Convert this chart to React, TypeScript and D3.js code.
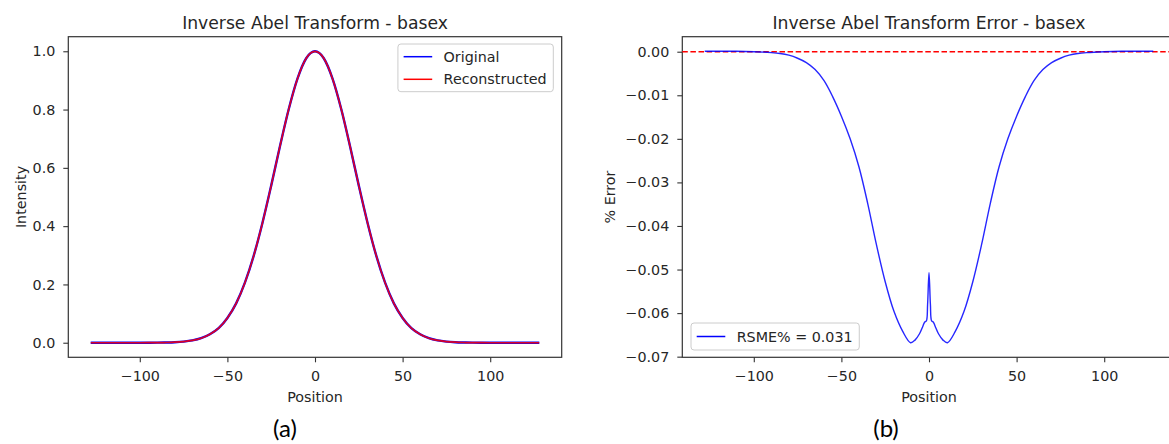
import React, { useEffect, useRef } from "react";
import * as d3 from "d3";

// sample positions (pixels from centre) and the values
const positions = [
  -128, -120, -110, -100, -95, -90, -85, -80, -75, -70, -65, -60, -55, -50, -45, -40, -35, -30, -25, -20, -15,
  -10, -5, 0, 5, 10, 15, 20, 25, 30, 35, 40, 45, 50, 55, 60, 65, 70, 75, 80, 85, 90, 95, 100, 110, 120, 128,
];
const original = [
  0, 0, 0, 0, 0.0001, 0.0003, 0.0008, 0.0018, 0.0039, 0.0079, 0.0154, 0.029, 0.05, 0.085, 0.135, 0.206, 0.298,
  0.411, 0.539, 0.674, 0.801, 0.906, 0.976, 1.0, 0.976, 0.906, 0.801, 0.674, 0.539, 0.411, 0.298, 0.206, 0.135,
  0.085, 0.05, 0.029, 0.0154, 0.0079, 0.0039, 0.0018, 0.0008, 0.0003, 0.0001, 0, 0, 0, 0,
];
const reconstructed = [
  0, 0, 0, 0, 0.0001, 0.0003, 0.0008, 0.0018, 0.0039, 0.0079, 0.0154, 0.029, 0.05, 0.085, 0.135, 0.206, 0.298,
  0.411, 0.539, 0.674, 0.801, 0.906, 0.976, 0.9995, 0.976, 0.906, 0.801, 0.674, 0.539, 0.411, 0.298, 0.206, 0.135,
  0.085, 0.05, 0.029, 0.0154, 0.0079, 0.0039, 0.0018, 0.0008, 0.0003, 0.0001, 0, 0, 0, 0,
];

const errPositions = [
  -128, -120, -110, -100, -90, -85, -80, -75, -70, -65, -60, -55, -50, -45, -40, -35, -30, -25, -20, -15, -10.5,
  -8, -5.5, -3.5, -2.5, -1.5, -0.8, 0, 0.8, 1.5, 2.5, 3.5, 5.5, 8, 10.5, 15, 20, 25, 30, 35, 40, 45, 50, 55, 60,
  65, 70, 75, 80, 85, 90, 100, 110, 120, 128,
];
const errorPct = [
  0.0001, 0.0001, 0.0001, 0, -0.0002, -0.0004, -0.0008, -0.0015, -0.0025, -0.0041, -0.0066, -0.0103, -0.0148,
  -0.02, -0.0264, -0.0348, -0.0443, -0.0528, -0.0596, -0.0642, -0.0668, -0.0662, -0.0648, -0.063, -0.0621,
  -0.0618, -0.058, -0.0507, -0.058, -0.0618, -0.0621, -0.063, -0.0648, -0.0662, -0.0668, -0.0642, -0.0596,
  -0.0528, -0.0443, -0.0348, -0.0264, -0.02, -0.0148, -0.0103, -0.0066, -0.0041, -0.0025, -0.0015, -0.0008,
  -0.0004, -0.0002, 0, 0.0001, 0.0001, 0.0001,
];

const positionTicks = [-100, -50, 0, 50, 100];
const intensityTicks = [0, 0.2, 0.4, 0.6, 0.8, 1.0];
const errorTicks = [0, -0.01, -0.02, -0.03, -0.04, -0.05, -0.06, -0.07];
const titles = ["Inverse Abel Transform - basex", "Inverse Abel Transform Error - basex"];
const yLabels = ["Intensity", "% Error"];
const legendA = ["Original", "Reconstructed"];
const legendB = "RSME% = 0.031";
const captions = ["(a)", "(b)"];

const FONT = "DejaVu Sans";
const FS = 14.3;
const INK = "#262626";

// matplotlib style autoscale: 5% margin on each side
const padded = (vals: number[]): [number, number] => {
  const [lo, hi] = d3.extent(vals) as [number, number];
  const m = (hi - lo) * 0.05;
  return [lo - m, hi + m];
};

const App: React.FC = () => {
  const svgRef = useRef<SVGSVGElement>(null);

  useEffect(() => {
    if (!svgRef.current) return;
    const svg = d3.select(svgRef.current);
    svg.selectAll("*").remove();

    const top = 36.7;
    const bottom = 357.3;
    const panelW = 493.4;
    const lefts = [68.3, 682.3];

    const drawPanel = (
      i: number,
      yDomain: [number, number],
      yTicks: number[],
      yFmt: (d: number) => string,
      yLabelX: number
    ) => {
      const x0 = lefts[i];
      const x = d3.scaleLinear().domain(padded(positions)).range([x0, x0 + panelW]);
      const y = d3.scaleLinear().domain(yDomain).range([bottom, top]);
      const g = svg.append("g");

      const xAxis = g
        .append("g")
        .attr("transform", `translate(0,${bottom})`)
        .call(
          d3
            .axisBottom(x)
            .tickValues(positionTicks)
            .tickSize(5)
            .tickPadding(8.3)
            .tickFormat((d) => d3.format("d")(d as number))
        );
      const yAxis = g
        .append("g")
        .attr("transform", `translate(${x0},0)`)
        .call(
          d3
            .axisLeft(y)
            .tickValues(yTicks)
            .tickSize(5)
            .tickPadding(8)
            .tickFormat((d) => yFmt(d as number))
        );
      [xAxis, yAxis].forEach((a) => {
        a.select(".domain").remove();
        a.selectAll("line").attr("stroke", "#333").attr("stroke-width", 1.1);
        a.selectAll("text").attr("font-family", FONT).attr("font-size", FS).attr("fill", INK);
      });

      g.append("rect")
        .attr("x", x0)
        .attr("y", top)
        .attr("width", panelW)
        .attr("height", bottom - top)
        .attr("fill", "none")
        .attr("stroke", "#333")
        .attr("stroke-width", 1.2);

      g.append("text")
        .attr("x", x0 + panelW / 2)
        .attr("y", 29)
        .attr("text-anchor", "middle")
        .attr("font-family", FONT)
        .attr("font-size", 17.2)
        .attr("fill", INK)
        .text(titles[i]);

      g.append("text")
        .attr("x", x0 + panelW / 2)
        .attr("y", 402)
        .attr("text-anchor", "middle")
        .attr("font-family", FONT)
        .attr("font-size", FS)
        .attr("fill", INK)
        .text("Position");

      g.append("text")
        .attr("transform", `translate(${yLabelX},${(top + bottom) / 2}) rotate(-90)`)
        .attr("dy", "0.35em")
        .attr("text-anchor", "middle")
        .attr("font-family", FONT)
        .attr("font-size", FS)
        .attr("fill", INK)
        .text(yLabels[i]);

      return { g, x, y };
    };

    // ---- panel (a)
    const a = drawPanel(0, padded([...original, ...reconstructed]), intensityTicks, d3.format(".1f"), 20.7);
    const lineA = d3
      .line<number>()
      .x((_, k) => a.x(positions[k]))
      .curve(d3.curveMonotoneX);
    a.g.append("path")
      .attr("d", lineA.y((v) => a.y(v))(original))
      .attr("fill", "none")
      .attr("stroke", "#0000ff")
      .attr("stroke-width", 2.4);
    a.g.append("path")
      .attr("d", lineA.y((v) => a.y(v))(reconstructed))
      .attr("fill", "none")
      .attr("stroke", "#ff0000")
      .attr("stroke-width", 1.7)
      .attr("opacity", 0.85);

    // legend (a)
    const legA = a.g.append("g");
    const boxRight = lefts[0] + panelW - 8.4;
    const boxTop = top + 7.3;
    const legRect = legA
      .append("rect")
      .attr("y", boxTop)
      .attr("height", 47.7)
      .attr("rx", 3)
      .attr("fill", "#fff")
      .attr("fill-opacity", 0.8)
      .attr("stroke", "#cccccc");
    const colorsA = ["#0000ff", "#ff0000"];
    let maxW = 0;
    const textsA: d3.Selection<SVGTextElement, unknown, null, undefined>[] = [];
    legendA.forEach((name, k) => {
      const cy = boxTop + 12.7 + k * 22.6;
      const t = legA
        .append("text")
        .attr("y", cy)
        .attr("dy", "0.35em")
        .attr("font-family", FONT)
        .attr("font-size", FS)
        .attr("fill", INK)
        .text(name);
      textsA.push(t);
      maxW = Math.max(maxW, (t.node() as SVGTextElement).getComputedTextLength());
    });
    const textLeft = boxRight - 6.6 - maxW;
    textsA.forEach((t) => t.attr("x", textLeft));
    legendA.forEach((_, k) => {
      const cy = boxTop + 12.7 + k * 22.6;
      legA
        .append("line")
        .attr("x1", textLeft - 11.4 - 28.6)
        .attr("x2", textLeft - 11.4)
        .attr("y1", cy)
        .attr("y2", cy)
        .attr("stroke", colorsA[k])
        .attr("stroke-width", 1.5);
    });
    legRect.attr("x", textLeft - 11.4 - 28.6 - 5.7).attr("width", boxRight - (textLeft - 11.4 - 28.6 - 5.7));

    // ---- panel (b)
    const b = drawPanel(1, padded(errorPct), errorTicks, d3.format(".2f"), 610);
    b.g.append("line")
      .attr("x1", lefts[1])
      .attr("x2", lefts[1] + panelW)
      .attr("y1", b.y(0))
      .attr("y2", b.y(0))
      .attr("stroke", "#ff0000")
      .attr("stroke-width", 1.5)
      .attr("stroke-dasharray", "5.5,2.6");
    const lineB = d3
      .line<number>()
      .x((_, k) => b.x(errPositions[k]))
      .y((v) => b.y(v))
      .curve(d3.curveCatmullRom.alpha(0.5));
    b.g.append("path")
      .attr("d", lineB(errorPct))
      .attr("fill", "none")
      .attr("stroke", "#0000ff")
      .attr("stroke-width", 1.4)
      .attr("opacity", 0.85);

    // legend (b)
    const legB = b.g.append("g");
    const bLeft = lefts[1] + 8.7;
    const bBottom = bottom - 7.3;
    const bRect = legB
      .append("rect")
      .attr("x", bLeft)
      .attr("y", bBottom - 27)
      .attr("height", 27)
      .attr("rx", 3)
      .attr("fill", "#fff")
      .attr("fill-opacity", 0.8)
      .attr("stroke", "#cccccc");
    const bcy = bBottom - 13.5;
    legB.append("line")
      .attr("x1", bLeft + 5.7)
      .attr("x2", bLeft + 5.7 + 28.6)
      .attr("y1", bcy)
      .attr("y2", bcy)
      .attr("stroke", "#0000ff")
      .attr("stroke-width", 1.5);
    const tb = legB
      .append("text")
      .attr("x", bLeft + 5.7 + 28.6 + 11.4)
      .attr("y", bcy)
      .attr("dy", "0.35em")
      .attr("font-family", FONT)
      .attr("font-size", FS)
      .attr("fill", INK)
      .text(legendB);
    bRect.attr("width", 5.7 + 28.6 + 11.4 + (tb.node() as SVGTextElement).getComputedTextLength() + 6.6);

    // captions
    [285, 886].forEach((cx, k) => {
      svg
        .append("text")
        .attr("x", cx)
        .attr("y", 437)
        .attr("text-anchor", "middle")
        .attr("font-family", "Lato")
        .attr("font-size", 24)
        .attr("fill", "#000")
        .text(captions[k]);
    });
  }, []);

  return (
    <svg
      ref={svgRef}
      width={1169}
      height={444}
      style={{ position: "absolute", left: 0, top: 0, background: "#fff" }}
    />
  );
};

export default App;
